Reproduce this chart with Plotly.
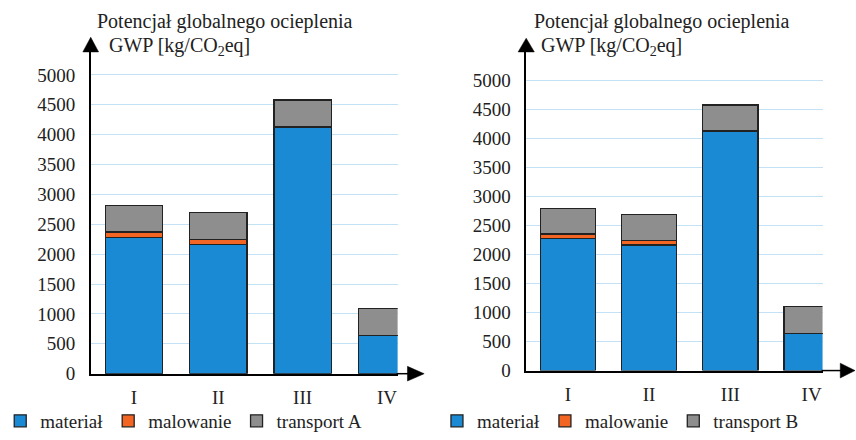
import plotly.graph_objects as go

W, H = 856, 440

# ---- data ----
categories = ["I", "II", "III", "IV"]
material_A = [2280, 2165, 4130, 640]
painting_A = [90, 80, 0, 0]
transport_A = [440, 455, 450, 455]

material_B = [2280, 2165, 4130, 640]
painting_B = [75, 75, 0, 0]
transport_B = [445, 455, 450, 460]

series_names_A = ["materiał", "malowanie", "transport A"]
series_names_B = ["materiał", "malowanie", "transport B"]
colors = ["#1a8ad4", "#f26522", "#8e8e8e"]
y_ticks = [0, 500, 1000, 1500, 2000, 2500, 3000, 3500, 4000, 4500, 5000]

FONT = "Liberation Serif"


def px(x):
    return x / W


def py(y):
    return 1 - y / H


fig = go.Figure()

for vals, name, col in zip([material_A, painting_A, transport_A], series_names_A, colors):
    fig.add_trace(go.Bar(x=categories, y=vals, name=name, xaxis="x", yaxis="y",
                         marker=dict(color=col, line=dict(color="#222222", width=1.3)),
                         width=0.68, legend="legend"))
for vals, name, col in zip([material_B, painting_B, transport_B], series_names_B, colors):
    fig.add_trace(go.Bar(x=categories, y=vals, name=name, xaxis="x2", yaxis="y2",
                         marker=dict(color=col, line=dict(color="#222222", width=1.3)),
                         width=0.68, legend="legend2"))

axis_common = dict(showline=True, linecolor="black", linewidth=1.5, ticks="",
                   tickfont=dict(family=FONT, size=19, color="#222"),
                   zeroline=False, automargin=False, fixedrange=True)

y0L, y5kL, topL = 381.5, 76.5, 45
rangeL = (y0L - topL) / ((y0L - y5kL) / 5000)
y0R, y5kR, topR = 378.3, 82.3, 46
rangeR = (y0R - topR) / ((y0R - y5kR) / 5000)

legend_common = dict(orientation="h", yanchor="middle", traceorder="normal",
                     font=dict(family=FONT, size=19, color="#222"), bgcolor="rgba(0,0,0,0)",
                     itemclick=False, itemdoubleclick=False, itemwidth=30)

fig.update_layout(
    width=W, height=H,
    margin=dict(l=0, r=0, t=0, b=0),
    paper_bgcolor="white", plot_bgcolor="white",
    barmode="stack",
    font=dict(family=FONT, size=19, color="#222"),
    xaxis=dict(domain=[px(78), px(390)], range=[-0.513, 3.127], anchor="y",
               showgrid=False, ticklabelstandoff=6, **axis_common),
    yaxis=dict(domain=[py(y0L), py(topL)], range=[0, rangeL], anchor="x",
               tickvals=y_ticks, showgrid=True, gridcolor="#c3e2f5", gridwidth=1,
               ticklabelstandoff=10, **axis_common),
    xaxis2=dict(domain=[px(520.7), px(822)], range=[-0.512, 3.135], anchor="y2",
                showgrid=False, ticklabelstandoff=6, **axis_common),
    yaxis2=dict(domain=[py(y0R), py(topR)], range=[0, rangeR], anchor="x2",
                tickvals=y_ticks, showgrid=True, gridcolor="#c3e2f5", gridwidth=1,
                ticklabelstandoff=10, **axis_common),
    legend=dict(x=px(-14), xanchor="left", y=py(430), **legend_common),
    legend2=dict(x=px(430), xanchor="left", y=py(430), **legend_common),
    showlegend=True,
)

shapes = []


def tri(p1, p2, p3):
    path = "M {} {} L {} {} L {} {} Z".format(px(p1[0]), py(p1[1]), px(p2[0]), py(p2[1]),
                                              px(p3[0]), py(p3[1]))
    return dict(type="path", xref="paper", yref="paper", path=path,
                fillcolor="black", line=dict(color="black", width=0.5))


def seg(x0, y0, x1, y1):
    return dict(type="line", xref="paper", yref="paper", x0=px(x0), y0=py(y0), x1=px(x1), y1=py(y1),
                line=dict(color="black", width=1.5))


shapes += [seg(389, y0L, 402, y0L), tri((417, y0L), (400, y0L - 7.5), (400, y0L + 7.5))]
shapes += [tri((78, 38), (70, 53), (86, 53))]
shapes += [seg(821, y0R, 843, y0R), tri((855, y0R), (840, y0R - 7.5), (840, y0R + 7.5))]
shapes += [tri((520.7, 39), (512.5, 53), (529, 53))]
fig.update_layout(shapes=shapes)

annots = [
    dict(text="Potencjał globalnego ocieplenia", x=px(82), y=py(22)),
    dict(text="GWP [kg/CO<sub>2</sub>eq]", x=px(95), y=py(47)),
    dict(text="Potencjał globalnego ocieplenia", x=px(527), y=py(22)),
    dict(text="GWP [kg/CO<sub>2</sub>eq]", x=px(534), y=py(47)),
]
for a in annots:
    fig.add_annotation(xref="paper", yref="paper", xanchor="left", yanchor="middle",
                       showarrow=False, font=dict(family=FONT, size=20, color="#222"), **a)

fig.write_html("out.html", config={"displayModeBar": False},
               post_script="document.body.style.margin='0';document.body.style.overflow='hidden';")
